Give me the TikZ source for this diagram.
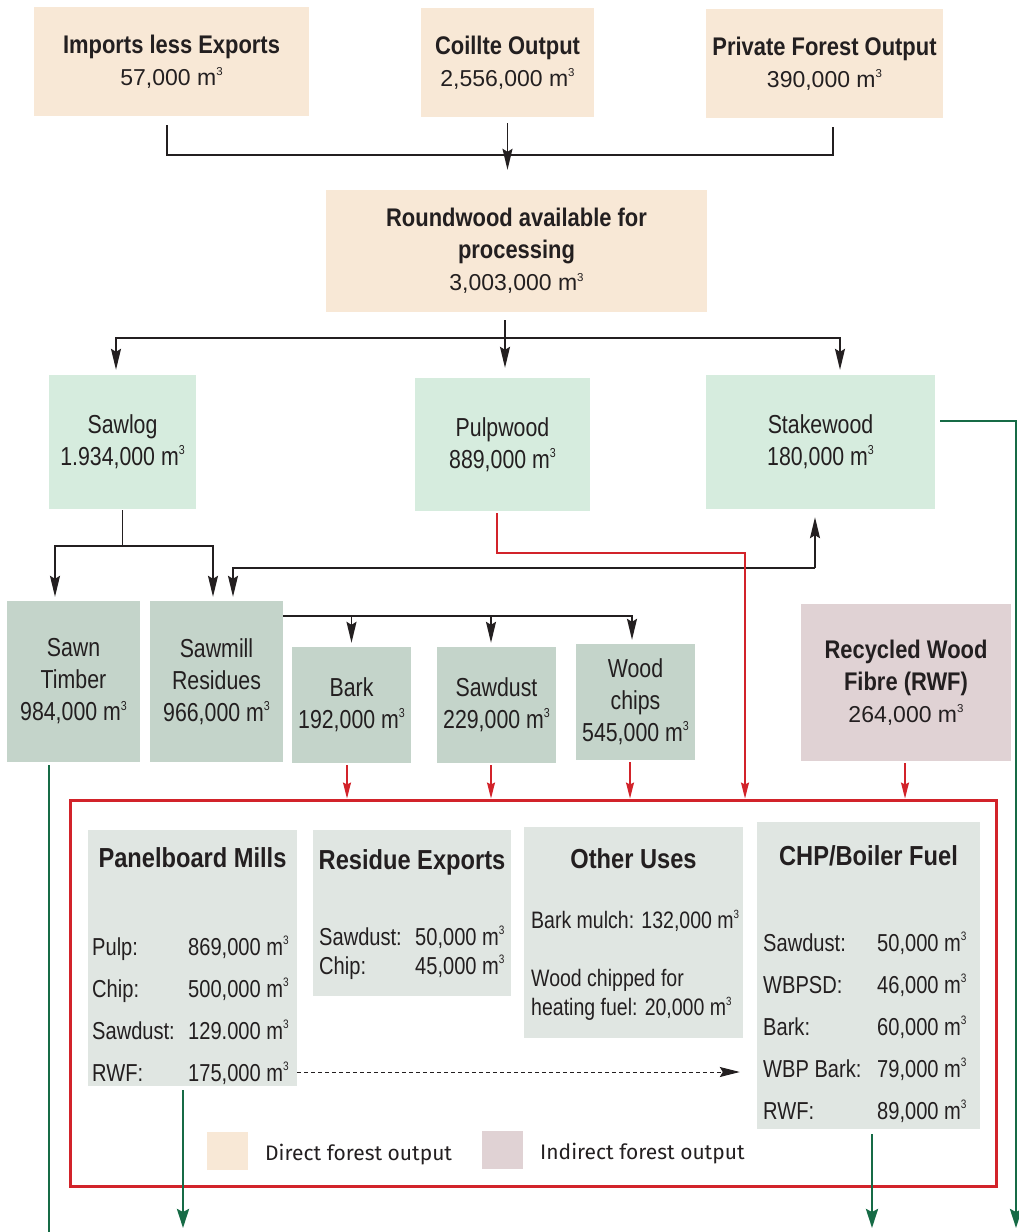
\documentclass[tikz,border=0pt]{standalone}
\usepackage{graphicx}
\usepackage{fontspec}
\setmainfont{Liberation Sans}
\newfontfamily\condfont[FakeStretch=0.82]{Liberation Sans}
\newfontfamily\headfont[FakeStretch=0.86]{Liberation Sans}
\newfontfamily\legfont{Fira Sans}
\usetikzlibrary{arrows.meta}

\definecolor{direct}{RGB}{248,232,214}
\definecolor{indirect}{RGB}{224,210,212}
\definecolor{round}{RGB}{214,236,222}
\definecolor{mill}{RGB}{196,212,202}
\definecolor{inner}{RGB}{224,230,226}
\definecolor{ink}{RGB}{35,31,32}
\definecolor{fred}{RGB}{210,35,42}
\definecolor{fgreen}{RGB}{22,107,70}

\newcommand{\cum}{m\raisebox{.42em}{\scalebox{.5}{3}}}
\newcommand{\ttl}[1]{{\headfont\bfseries\fontsize{25.5}{32}\selectfont #1}}

\begin{document}
\begin{tikzpicture}[x=1pt,y=-1pt,
    box/.style={fill=#1,inner sep=0pt,align=center,text=ink,
      font=\fontsize{23}{32}\selectfont},
    cbox/.style={box=#1,font=\condfont\fontsize{26}{32}\selectfont},
    head/.style={inner sep=0pt,text=ink,font=\headfont\bfseries\fontsize{27.5}{32}\selectfont},
    rows/.style={inner sep=0pt,text=ink,font=\condfont\fontsize{24.5}{#1}\selectfont},
    legend/.style={inner sep=0pt,text=ink,font=\legfont\fontsize{21}{26}\selectfont},
    line/.style={draw=ink,line width=1.6pt},
    arr/.style={line,-{Stealth[length=21pt,width=10pt,inset=3pt]}},
    redarr/.style={draw=fred,line width=1.4pt,-{Stealth[length=16pt,width=8pt,inset=2pt]}},
    grnline/.style={draw=fgreen,line width=2.8pt},
    grnarr/.style={grnline,-{Stealth[length=19pt,width=12pt,inset=3pt]}},
    dasharr/.style={draw=ink,line width=1pt,dash pattern=on 4pt off 3pt,
      -{Stealth[length=20pt,width=10pt,inset=3pt]}}]
  \useasboundingbox (0,0) rectangle (1018,1232);

  % sources
  \node[box=direct,minimum width=275pt,minimum height=109pt] (imp) at (171.5,61.5)
    {\ttl{Imports less Exports}\\57,000 \cum};
  \node[box=direct,minimum width=173pt,minimum height=109pt] (coi) at (507.5,62.5)
    {\ttl{Coillte Output}\\2,556,000 \cum};
  \node[box=direct,minimum width=237pt,minimum height=109pt] (pri) at (824.5,63.5)
    {\ttl{Private Forest Output}\\390,000 \cum};
  \node[box=direct,minimum width=381pt,minimum height=122pt] (rnd) at (516.5,251)
    {\ttl{Roundwood available for}\\\ttl{processing}\\3,003,000 \cum};

  % roundwood split
  \node[cbox=round,minimum width=147pt,minimum height=134pt] (saw) at (122.5,442)
    {Sawlog\\1.934,000 \cum};
  \node[cbox=round,minimum width=175pt,minimum height=133pt] (pul) at (502.5,444.5)
    {Pulpwood\\889,000 \cum};
  \node[cbox=round,minimum width=229pt,minimum height=134pt] (stk) at (820.5,442)
    {Stakewood\\180,000 \cum};

  % sawmill products
  \node[cbox=mill,minimum width=133pt,minimum height=161pt] (swn) at (73.5,681.5)
    {Sawn\\Timber\\984,000 \cum};
  \node[cbox=mill,minimum width=133pt,minimum height=161pt] (res) at (216.5,681.5)
    {Sawmill\\Residues\\966,000 \cum};
  \node[cbox=mill,minimum width=119pt,minimum height=116pt] (brk) at (351.5,705)
    {Bark\\192,000 \cum};
  \node[cbox=mill,minimum width=119pt,minimum height=116pt] (sdt) at (496.5,705)
    {Sawdust\\229,000 \cum};
  \node[cbox=mill,minimum width=119pt,minimum height=116pt] (chp) at (635.5,702)
    {Wood\\chips\\545,000 \cum};
  \node[box=indirect,minimum width=210pt,minimum height=157pt] (rwf) at (906,682.5)
    {\ttl{Recycled Wood}\\\ttl{Fibre (RWF)}\\264,000 \cum};

  % end uses
  \node[draw=fred,line width=3pt,minimum width=926pt,minimum height=386pt,inner sep=0pt]
    (use) at (533,993) {};

  \node[box=inner,minimum width=209pt,minimum height=256pt] (pbm) at (192.5,958) {};
  \node[head,anchor=base] (pbm-t) at ([yshift=-38pt]pbm.north) {Panelboard Mills};
  \node[rows=42,anchor=base west] (pbm-r) at (92,955)
    {\begin{tabular}[t]{@{}p{96pt}@{}r@{}}
      Pulp: & 869,000 \cum\\ Chip: & 500,000 \cum\\
      Sawdust: & 129.000 \cum\\ RWF: & 175,000 \cum
    \end{tabular}};

  \node[box=inner,minimum width=198pt,minimum height=166pt] (rex) at (412,913) {};
  \node[head,anchor=base] (rex-t) at ([yshift=-40pt]rex.north) {Residue Exports};
  \node[rows=29,anchor=base west] (rex-r) at (319,945)
    {\begin{tabular}[t]{@{}p{96pt}@{}l@{}}
      Sawdust: & 50,000 \cum\\ Chip: & 45,000 \cum
    \end{tabular}};

  \node[box=inner,minimum width=219pt,minimum height=211pt] (oth) at (633.5,932.5) {};
  \node[head,anchor=base] (oth-t) at ([yshift=-42pt]oth.north) {Other Uses};
  \node[rows=29,anchor=base west,font=\condfont\fontsize{23.8}{29}\selectfont] (oth-r) at (531,928)
    {\begin{tabular}[t]{@{}l@{}}
      Bark mulch: 132,000 \cum\\ \\ Wood chipped for\\ heating fuel: 20,000 \cum
    \end{tabular}};

  \node[box=inner,minimum width=223pt,minimum height=307pt] (chpf) at (868.5,975.5) {};
  \node[head,anchor=base] (chpf-t) at ([yshift=-44pt]chpf.north) {CHP/Boiler Fuel};
  \node[rows=42,anchor=base west] (chpf-r) at (763,951)
    {\begin{tabular}[t]{@{}p{114pt}@{}l@{}}
      Sawdust: & 50,000 \cum\\ WBPSD: & 46,000 \cum\\ Bark: & 60,000 \cum\\
      WBP Bark: & 79,000 \cum\\ RWF: & 89,000 \cum
    \end{tabular}};

  % legend
  \node[box=direct,minimum width=41pt,minimum height=38pt] (key-d) at (227.5,1151) {};
  \node[legend,anchor=base west] (key-d-t) at (265,1160) {Direct forest output};
  \node[box=indirect,minimum width=41pt,minimum height=38pt] (key-i) at (502.5,1150) {};
  \node[legend,anchor=base west] (key-i-t) at (540,1159) {Indirect forest output};

  % black flows
  \coordinate (j1) at (508,155);
  \coordinate (j2) at (505,338);
  \coordinate (j3) at (122.5,546);
  \coordinate (j4) at (815,568);
  \coordinate (j5) at (632,616);
  \draw[line] ([xshift=-4.5pt,yshift=-9pt]imp.south) |- (j1)
    -| ([xshift=8.5pt,yshift=-9pt]pri.south);
  \draw[arr] ([yshift=-6pt]coi.south) -- ([yshift=20pt]coi.south |- rnd.north);
  \draw[line] ([yshift=-8pt]j2 |- rnd.south) -- (j2);
  \draw[arr] (j2) -| ([xshift=-6.5pt,yshift=5pt]saw.north);
  \draw[arr] (j2) -| ([xshift=19.5pt,yshift=5pt]stk.north);
  \draw[arr] (j2) -- ([yshift=10pt]j2 |- pul.north);
  \draw[line] ([yshift=-1pt]saw.south) -- (j3);
  \draw[arr] (j3) -| ([xshift=-18.5pt,yshift=4pt]swn.north);
  \draw[arr] (j3) -| ([xshift=-3.5pt,yshift=4pt]res.north);
  \draw[arr] (j4) -- ([yshift=-8pt]j4 |- stk.south);
  \draw[arr] (j4) -| ([xshift=16.5pt,yshift=4pt]res.north);
  \draw[arr] (res.east |- j5) -| ([xshift=-3.5pt,yshift=4pt]chp.north);
  \draw[arr] (brk.north |- j5) -- ([yshift=4pt]brk.north);
  \draw[arr] ([xshift=-5.5pt]sdt.north |- j5) -- ([xshift=-5.5pt,yshift=4pt]sdt.north);
  \draw[dasharr] ([yshift=-114pt]pbm.east) -- ([xshift=-17pt,yshift=-114pt]pbm.east -| chpf.west);

  % red flows
  \coordinate (j6) at (745,553);
  \draw[redarr] ([xshift=-5.5pt,yshift=-2pt]pul.south) |- (j6) -- (j6 |- use.north);
  \draw[redarr] ([xshift=-4.5pt,yshift=-2pt]brk.south) -- ([xshift=-4.5pt]brk.south |- use.north);
  \draw[redarr] ([xshift=-5.5pt,yshift=-2pt]sdt.south) -- ([xshift=-5.5pt]sdt.south |- use.north);
  \draw[redarr] ([xshift=-5.5pt,yshift=-2pt]chp.south) -- ([xshift=-5.5pt]chp.south |- use.north);
  \draw[redarr] ([xshift=-1pt,yshift=-2pt]rwf.south) -- ([xshift=-1pt]rwf.south |- use.north);

  % green flows
  \coordinate (bot) at (0,1232);
  \coordinate (j7) at (1016,421);
  \draw[grnline] ([xshift=-24.5pt,yshift=-3pt]swn.south) -- ([xshift=-24.5pt]swn.south |- bot);
  \draw[grnarr] ([xshift=-9.5pt,yshift=-4pt]pbm.south) -- ([xshift=-9.5pt,yshift=4pt]pbm.south |- bot);
  \draw[grnarr] ([xshift=3.5pt,yshift=-5pt]chpf.south) -- ([xshift=3.5pt,yshift=4pt]chpf.south |- bot);
  \draw[grnarr] ([xshift=5pt,yshift=21pt]stk.east) -- (j7) -- ([yshift=4pt]j7 |- bot);
\end{tikzpicture}
\end{document}
